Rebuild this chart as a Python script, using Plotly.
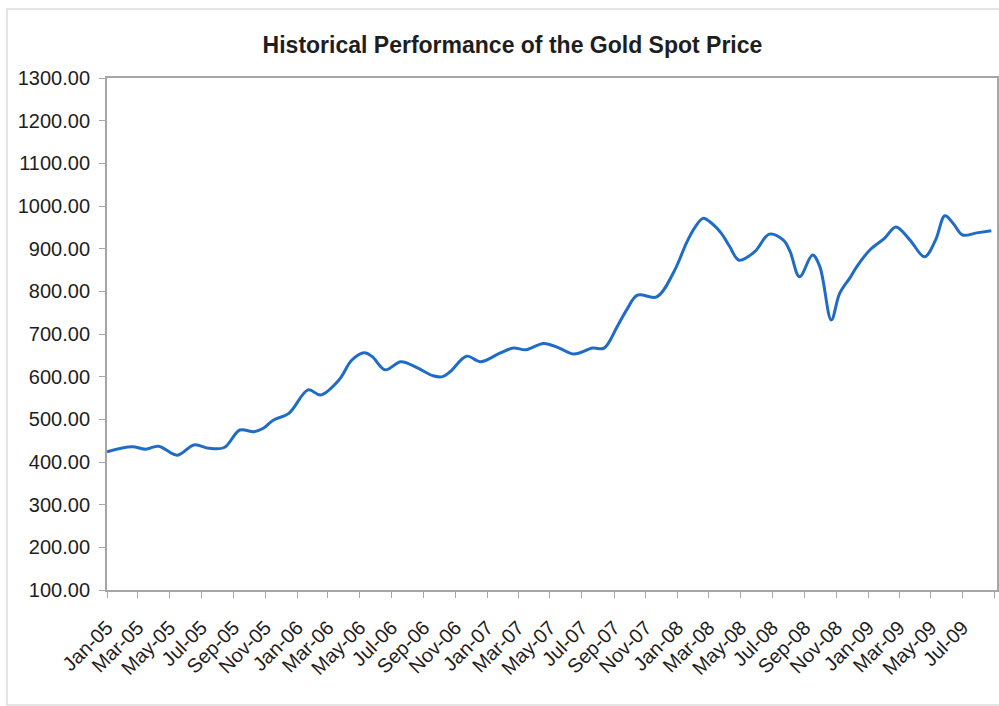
import plotly.graph_objects as go

dates = [
    "2005-01-01", "2005-02-18", "2005-03-16", "2005-04-10", "2005-05-16", "2005-06-17",
    "2005-07-16", "2005-08-14", "2005-09-13", "2005-10-10", "2005-10-28", "2005-11-16",
    "2005-12-16", "2006-01-22", "2006-02-15", "2006-03-22", "2006-04-16", "2006-05-10",
    "2006-05-25", "2006-06-19", "2006-07-19", "2006-08-16", "2006-09-19", "2006-10-07",
    "2006-10-22", "2006-11-22", "2006-12-19", "2007-01-25", "2007-02-20", "2007-03-16",
    "2007-04-19", "2007-05-19", "2007-06-16", "2007-07-22", "2007-08-13", "2007-09-07",
    "2007-09-25", "2007-10-16", "2007-11-22", "2007-12-25", "2008-01-19", "2008-02-04",
    "2008-02-19", "2008-03-07", "2008-03-25", "2008-04-10", "2008-04-28", "2008-05-28",
    "2008-06-25", "2008-07-22", "2008-08-04", "2008-08-22", "2008-09-16", "2008-09-30",
    "2008-10-22", "2008-11-07", "2008-11-28", "2008-12-10", "2009-01-04", "2009-02-01",
    "2009-02-23", "2009-03-22", "2009-04-19", "2009-05-10", "2009-05-28", "2009-06-13",
    "2009-07-01", "2009-07-28", "2009-08-25",
]
gold_price = [
    424, 436, 430, 437, 416, 440,
    432, 434, 475, 471, 479, 498,
    514, 569, 557, 592, 639, 656,
    647, 616, 635, 623, 602, 600,
    612, 648, 635, 655, 667, 663,
    678, 667, 653, 667, 667, 717,
    756, 791, 787, 846, 916, 951,
    971, 959, 936, 905, 873, 893,
    934, 920, 893, 834, 885, 858,
    733, 795, 834, 858, 897, 924,
    951, 920, 881, 920, 977, 959,
    932, 937, 942,
]

title_text = "Historical Performance of the Gold Spot Price"
y_min, y_max, y_step = 100, 1300, 100

FONT = "Liberation Sans, Arial, sans-serif"
AXIS_GRAY = "#a6a6a6"
TEXT = "#1e1e1e"

fig = go.Figure()
fig.add_trace(go.Scatter(
    x=dates, y=gold_price, mode="lines",
    line=dict(color="#1f6cc6", width=3, shape="spline", smoothing=1.0),
    showlegend=False, hoverinfo="x+y",
))

fig.update_layout(
    width=999, height=706,
    paper_bgcolor="white", plot_bgcolor="white",
    margin=dict(l=107, r=2, t=78, b=116, autoexpand=False),
    title=dict(text="<b>" + title_text + "</b>", x=0.513, xanchor="center",
               y=1 - 45 / 706, yanchor="middle",
               font=dict(family=FONT, size=23, color=TEXT)),
    font=dict(family=FONT, size=20, color=TEXT),
    xaxis=dict(
        type="date", range=["2005-01-01", "2009-09-05"],
        tick0="2005-01-01", dtick="M2", tickformat="%b-%y", tickangle=-45,
        ticks="outside", ticklen=6, tickcolor=AXIS_GRAY, tickwidth=1,
        showline=True, linecolor=AXIS_GRAY, linewidth=2, mirror=True,
        showgrid=False, zeroline=False, ticklabelstandoff=10,
        tickfont=dict(family=FONT, size=20, color=TEXT),
    ),
    yaxis=dict(
        range=[y_min, y_max], dtick=y_step, tick0=y_min, tickformat=".2f",
        ticks="outside", ticklen=6, tickcolor=AXIS_GRAY, tickwidth=1,
        showline=True, linecolor=AXIS_GRAY, linewidth=2, mirror=True,
        showgrid=False, zeroline=False, ticklabelstandoff=5,
        tickfont=dict(family=FONT, size=20, color=TEXT),
    ),
    shapes=[dict(type="rect", xref="paper", yref="paper",
                 x0=-0.1124, x1=1.01, y0=-0.2246, y1=1.1348,
                 line=dict(color="#dcdcdc", width=1.5), layer="below")],
)

fig.write_html("out.html", config={"displayModeBar": False},
               post_script="document.body.style.margin='0';")
